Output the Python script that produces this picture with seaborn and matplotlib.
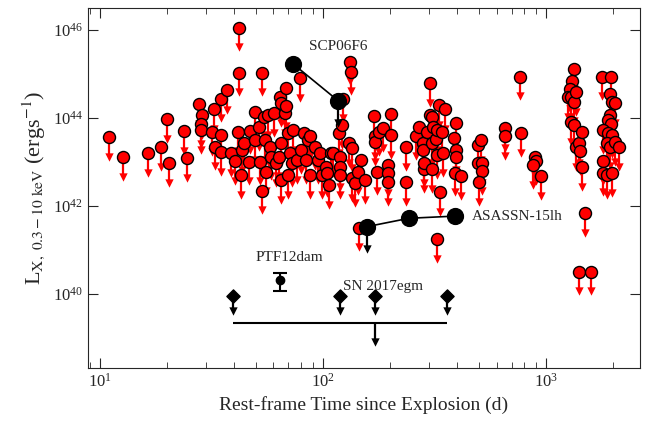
import numpy as np
import pandas as pd
import matplotlib
matplotlib.use("Agg")
import matplotlib.pyplot as plt
import seaborn as sns

# Upper limits sample (log10 t [d], log10 L [erg/s])
logt = [1.043,1.104,1.215,1.275,1.311,1.302,1.379,1.391,1.443,1.457,1.454,1.454,1.502,1.511,1.515,1.542,1.545,1.545,1.569,1.589,
        1.605,1.621,1.624,1.624,1.634,1.637,1.646,1.669,1.673,1.694,1.694,1.712,1.720,1.725,1.727,1.736,1.740,1.744,1.756,1.765,
        1.769,1.781,1.788,1.804,1.813,1.813,1.807,1.813,1.829,1.836,1.833,1.845,1.845,1.852,1.861,1.868,1.884,1.897,1.900,1.916,
        1.924,1.932,1.940,1.944,1.963,1.980,1.988,1.996,2.012,2.020,2.025,2.036,2.044,2.072,2.075,2.075,2.078,2.084,2.091,2.116,
        2.120,2.126,2.132,2.132,2.142,2.155,2.171,2.187,2.160,2.227,2.235,2.235,2.243,2.251,2.267,2.291,2.291,2.291,2.307,2.307,
        2.371,2.374,2.418,2.429,2.450,2.450,2.455,2.455,2.466,2.479,2.479,2.487,2.490,2.490,2.495,2.506,2.509,2.511,2.522,2.525,
        2.533,2.538,2.545,2.513,2.586,2.598,2.598,2.598,2.593,2.619,2.697,2.710,2.697,2.713,2.713,2.700,2.816,2.816,2.885,2.888,
        2.949,2.956,2.943,2.976,3.124,3.116,3.108,3.096,3.113,3.123,3.135,3.111,3.123,3.135,3.146,3.152,3.159,3.160,3.176,3.148,
        3.203,3.250,3.289,3.287,3.294,3.309,3.287,3.279,3.289,3.257,3.279,3.294,3.272,3.287,3.309,3.325,3.257,3.255,3.274,3.294]
logL = [43.56,43.11,43.20,43.33,42.97,43.98,43.70,43.08,44.32,44.06,43.86,43.73,43.68,44.20,43.35,43.23,43.62,44.44,44.64,43.21,
        43.02,43.69,45.03,46.05,42.70,43.26,43.42,43.01,43.71,44.14,43.50,43.80,43.01,42.35,45.03,44.03,43.50,42.78,44.07,43.35,
        43.12,44.11,42.97,43.12,42.59,43.42,44.48,44.33,44.11,44.26,44.68,43.65,42.70,43.20,42.97,43.73,43.05,44.90,43.27,43.65,
        43.05,43.50,43.58,42.70,43.35,43.05,43.20,42.70,42.89,42.74,42.47,43.20,43.20,43.65,43.12,42.89,42.70,43.84,44.44,43.42,
        45.28,45.05,43.31,42.64,42.52,42.78,43.05,42.59,41.51,44.05,43.58,43.46,42.78,43.67,43.77,42.93,42.74,42.55,44.09,43.61,
        43.33,42.55,43.58,43.80,43.42,43.27,42.83,42.97,43.69,44.79,44.07,44.01,43.42,42.83,43.80,43.52,43.16,43.73,44.29,42.31,
        43.67,43.21,44.20,41.25,43.54,43.88,43.27,43.12,42.76,42.67,43.39,43.50,42.97,42.97,42.80,42.55,43.77,43.59,44.94,43.65,
        43.12,43.02,42.93,42.68,45.11,44.83,44.66,44.48,44.47,44.37,44.58,43.91,43.85,43.33,43.42,43.24,43.67,42.88,41.84,40.51,
        40.51,44.94,44.94,44.55,44.36,44.34,44.07,43.96,43.86,43.73,43.65,43.62,43.42,43.35,43.46,43.33,43.02,42.76,42.70,42.74]

scp_t = [1.868, 2.068]; scp_L = [45.22, 44.39]
asn_t = [2.197, 2.385, 2.593]; asn_L = [41.53, 41.72, 41.77]
ptf_t = 1.808; ptf_L = 40.32; ptf_lo = 40.07; ptf_hi = 40.48
egm_t = [1.598, 2.078, 2.235, 2.555]; egm_L = 39.96
stack_L = 39.35; stack_t = 2.235

df = pd.DataFrame({"t": 10**np.array(logt), "L": 10**np.array(logL)})

sns.set_style("ticks")
plt.rcParams['font.family'] = ['Liberation Serif', 'DejaVu Serif']
plt.rcParams['mathtext.fontset'] = 'stix'

fig = plt.figure(figsize=(6.45, 4.36), dpi=100)
ax = fig.add_axes([0.136, 0.156, 0.856, 0.826])
ax.set_xscale("log"); ax.set_yscale("log")

def arrows(ax, t, L, color, dex=0.45, lw=1.6, ms=6, z=2):
    t = np.atleast_1d(t); L = np.atleast_1d(L)
    ax.vlines(t, L, L / 10**dex, color=color, lw=lw, zorder=z)
    ax.scatter(t, L / 10**dex, marker='v', s=ms**2, color=color, lw=0, zorder=z)

arrows(ax, df.t, df.L, "red")
sns.scatterplot(data=df, x="t", y="L", ax=ax, s=75, color="red", edgecolor="black",
                linewidth=1.0, zorder=3, legend=False)

# SCP06F6
ax.plot(10**np.array(scp_t), 10**np.array(scp_L), color="black", lw=1.2, zorder=4)
arrows(ax, 10**scp_t[1], 10**scp_L[1], "black", dex=0.5, z=4)
ax.scatter(10**np.array(scp_t), 10**np.array(scp_L), s=130, color="black", zorder=5)
ax.text(10**2.067, 10**45.55, "SCP06F6", fontsize=11, ha="center")
# ASASSN-15lh
ax.plot(10**np.array(asn_t), 10**np.array(asn_L), color="black", lw=1.2, zorder=4)
arrows(ax, 10**asn_t[0], 10**asn_L[0], "black", dex=0.5, z=4)
ax.scatter(10**np.array(asn_t), 10**np.array(asn_L), s=130, color="black", zorder=5)
ax.text(10**2.665, 10**41.77, "ASASSN-15lh", fontsize=11, va="center")
# PTF12dam
ax.errorbar(10**ptf_t, 10**ptf_L, yerr=[[10**ptf_L - 10**ptf_lo], [10**ptf_hi - 10**ptf_L]],
            fmt='o', color="black", ms=6, capsize=5, lw=1.5, capthick=1.5, zorder=5)
ax.text(10**1.85, 10**40.75, "PTF12dam", fontsize=11, ha="center")
# SN 2017egm
arrows(ax, 10**np.array(egm_t), np.full(4, 10**egm_L), "black", dex=0.35, z=4)
ax.scatter(10**np.array(egm_t), np.full(4, 10**egm_L), marker='D', s=45, color="black", zorder=5)
ax.text(10**2.27, 10**40.1, "SN 2017egm", fontsize=11, ha="center")
ax.hlines(10**stack_L, 10**egm_t[0], 10**egm_t[-1], color="black", lw=1.5, zorder=4)
arrows(ax, 10**stack_t, 10**stack_L, "black", dex=0.45, z=4)

ax.set_xlim(10**0.946, 10**3.42)
ax.set_ylim(10**38.32, 10**46.5)
ax.set_yticks([1e40, 1e42, 1e44, 1e46])
ax.tick_params(which="both", direction="in", top=True, right=True, labelsize=12)
ax.tick_params(which="major", length=7)
ax.tick_params(which="minor", length=4)
ax.yaxis.set_minor_locator(matplotlib.ticker.NullLocator())
ax.set_xlabel("Rest-frame Time since Explosion (d)", fontsize=14)
ax.set_ylabel(r"L$_{\mathrm{X,\ 0.3-10\ keV}}$ (ergs$^{-1}$)", fontsize=16)
fig.savefig("out.png", dpi=100)
